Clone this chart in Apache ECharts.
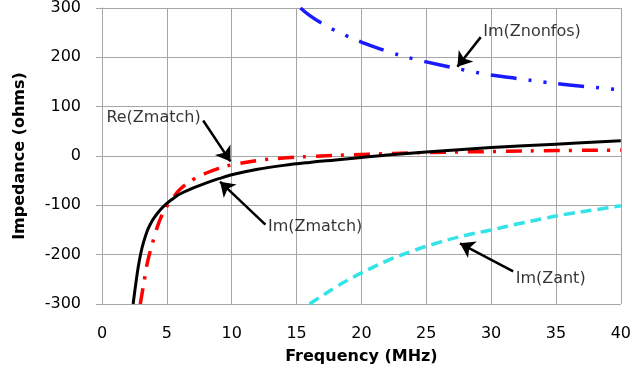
<!DOCTYPE html>
<html>
<head>
<meta charset="utf-8">
<script src="https://cdn.jsdelivr.net/npm/echarts@6/dist/echarts.min.js"></script>
<style>
  html, body { margin: 0; padding: 0; background: #fff; }
  #chart { width: 634px; height: 379px; }
</style>
</head>
<body>
<div id="chart"></div>
<script>
// values: [frequency MHz, impedance ohms]
const imZnonfos = [
  [15.3, 300], [16, 285], [17, 268], [18, 254], [19, 242], [20, 231], [22, 212],
  [24, 197], [26, 185], [28, 174], [30, 164], [32, 157], [34, 150], [36, 144],
  [38, 139], [40, 134],
]
const reZmatch = [
  [2.95, -300], [3.1, -277], [3.3, -246], [3.5, -216], [3.75, -190], [4, -167],
  [4.3, -141], [4.6, -121], [5, -102], [5.5, -84], [6, -68], [7, -48],
  [8, -35], [9, -25], [10, -18], [12, -9], [14, -4], [16, -1], [20, 3],
  [25, 7], [30, 9], [35, 11], [40, 12],
]
const imZmatch = [
  [2.4, -300], [2.6, -260], [2.8, -224], [3, -196], [3.2, -175], [3.5, -151],
  [3.75, -137], [4, -126], [4.5, -109], [5, -96], [5.5, -86], [6, -77],
  [7, -65], [8, -55], [9, -46], [10, -38], [12, -27], [14, -19], [16, -13],
  [18, -8], [20, -3], [22, 2], [25, 8], [30, 17], [35, 24], [40, 31],
]
const imZant = [
  [16, -300], [17, -283], [18, -266], [19, -251], [20, -237], [22, -212],
  [24, -192], [26, -175], [28, -161], [30, -150], [32, -138], [34, -127],
  [36, -117], [38, -109], [40, -101],
]
// callouts: label, arrow start, arrow tip
const callouts = [
  { text: 'Re(Zmatch)', from: [7.8, 72], to: [9.9, -11], side: 'left', dy: -3 },
  { text: 'Im(Zmatch)', from: [12.6, -139], to: [9.1, -52], side: 'right', dy: 2 },
  { text: 'Im(Znonfos)', from: [29.2, 241], to: [27.4, 181], side: 'right', dy: -5 },
  { text: 'Im(Zant)', from: [31.7, -234], to: [27.6, -177], side: 'right', dy: 7 },
]

const font = 'DejaVu Sans'
const gridColor = '#a6a6a6'

const chart = echarts.init(document.getElementById('chart'))

const curve = (name, data, color, type, width) => ({
  name,
  type: 'line',
  data,
  showSymbol: false,
  smooth: 0.4,
  lineStyle: { color, type, width, cap: 'butt', join: 'round' },
  z: 3,
})

chart.setOption({
  animation: false,
  backgroundColor: '#fff',
  grid: { left: 102, right: 13, top: 8, bottom: 75 },
  xAxis: {
    type: 'value',
    min: 0,
    max: 40,
    interval: 5,
    name: 'Frequency (MHz)',
    nameLocation: 'middle',
    nameGap: 45,
    nameTextStyle: { fontFamily: font, fontSize: 16, fontWeight: 'bold', color: '#000' },
    axisLine: { lineStyle: { color: gridColor, width: 1 } },
    axisTick: { show: true, length: 6, lineStyle: { color: gridColor } },
    axisLabel: { fontFamily: font, fontSize: 16, color: '#000', margin: 22 },
    splitLine: { show: true, lineStyle: { color: gridColor, width: 1 } },
  },
  yAxis: {
    type: 'value',
    min: -300,
    max: 300,
    interval: 100,
    name: 'Impedance (ohms)',
    nameLocation: 'middle',
    nameGap: 74,
    nameTextStyle: { fontFamily: font, fontSize: 16, fontWeight: 'bold', color: '#000' },
    axisLine: { show: true, lineStyle: { color: gridColor, width: 1 } },
    axisTick: { show: true, length: 6, lineStyle: { color: gridColor } },
    axisLabel: { fontFamily: font, fontSize: 16, color: '#000', margin: 21 },
    splitLine: { show: true, lineStyle: { color: gridColor, width: 1 } },
  },
  series: [
    curve('Im(Znonfos)', imZnonfos, '#1a1aff', [26, 12, 3, 12, 3, 12], 3.5),
    curve('Im(Zant)', imZant, '#33e3e8', [11, 6], 3.5),
    curve('Re(Zmatch)', reZmatch, '#ff0000', [16, 9, 3, 10], 3.5),
    curve('Im(Zmatch)', imZmatch, '#000000', 'solid', 3),
    {
      name: 'arrows',
      type: 'lines',
      coordinateSystem: 'cartesian2d',
      symbol: ['none', 'arrow'],
      symbolSize: 14,
      lineStyle: { color: '#000', width: 2.5, opacity: 1, curveness: 0 },
      data: callouts.map(c => ({ coords: [c.from, c.to] })),
      z: 5,
    },
    {
      name: 'labels',
      type: 'scatter',
      symbolSize: 1,
      itemStyle: { color: 'rgba(0,0,0,0)' },
      data: callouts.map(c => ({
        value: c.from,
        label: {
          show: true,
          formatter: c.text,
          position: c.side,
          distance: 2,
          offset: [0, c.dy],
          fontFamily: font,
          fontSize: 16,
          color: '#000',
        },
      })),
      z: 6,
    },
  ],
})
</script>
</body>
</html>
